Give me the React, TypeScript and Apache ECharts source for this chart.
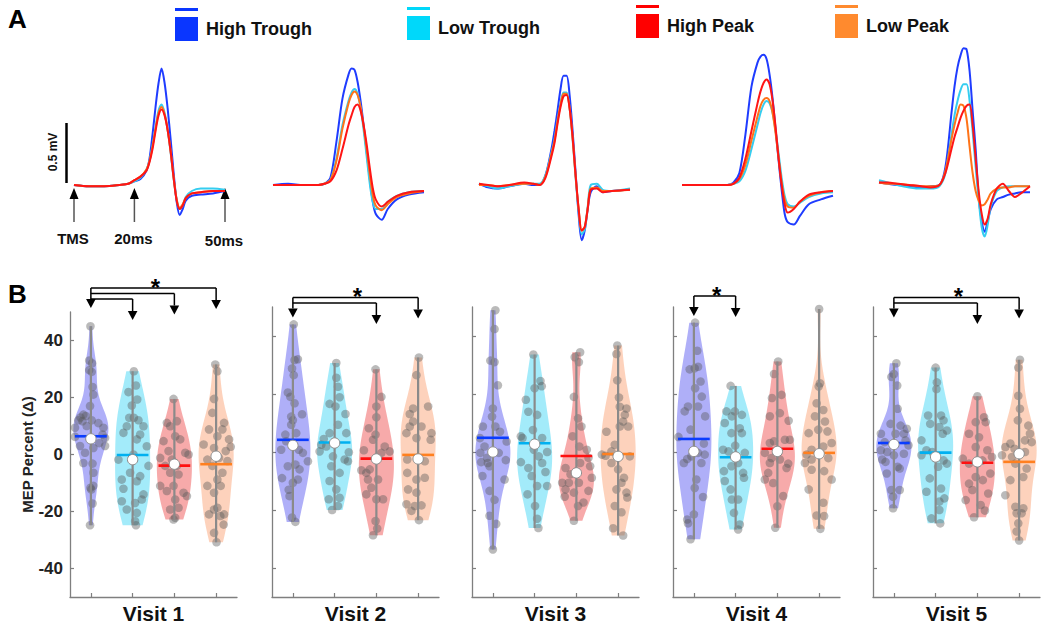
import React, { useEffect, useRef } from "react";
import * as echarts from "echarts";

const FONT = "'Liberation Sans', Arial, Helvetica, sans-serif";

const GROUPS = ["High Trough", "Low Trough", "High Peak", "Low Peak"];
const VISITS = ["Visit 1", "Visit 2", "Visit 3", "Visit 4", "Visit 5"];

// ---------------- Panel A: average MEP traces (time in ms, amplitude in mV) ----------------
const T_V1 = [0, 5, 10, 15, 18, 20, 22, 24, 25, 26, 27, 28, 29, 30, 31, 32, 33, 34, 35, 36, 37, 39, 42, 46, 50];
const A_V1_HT = [0, -0.01, -0.01, 0, 0.01, 0.03, 0.05, 0.12, 0.22, 0.42, 0.65, 0.85, 0.97, 0.85, 0.64, 0.38, 0.1, -0.14, -0.25, -0.2, -0.13, -0.09, -0.08, -0.07, -0.05];
const A_V1_LT = [0, -0.01, -0.01, 0, 0.01, 0.03, 0.06, 0.13, 0.2, 0.33, 0.48, 0.62, 0.67, 0.6, 0.46, 0.27, 0.05, -0.12, -0.2, -0.17, -0.1, -0.05, -0.03, -0.03, -0.04];
const A_V1_HP = [0, -0.01, -0.01, 0, 0.01, 0.04, 0.07, 0.12, 0.19, 0.3, 0.45, 0.58, 0.63, 0.58, 0.46, 0.28, 0.06, -0.13, -0.2, -0.17, -0.11, -0.07, -0.06, -0.05, -0.05];
const A_V1_LP = [0, -0.01, -0.01, 0, 0.01, 0.04, 0.07, 0.13, 0.2, 0.32, 0.47, 0.6, 0.65, 0.59, 0.46, 0.28, 0.06, -0.12, -0.19, -0.16, -0.11, -0.07, -0.06, -0.05, -0.05];

const T_V2 = [0, 5, 10, 15, 17, 19, 21, 23, 25, 26, 27, 28, 29, 30, 31, 32, 33, 34, 36, 38, 41, 45, 50];
const A_V2_HT = [0, 0.01, 0, 0, 0.01, 0.06, 0.36, 0.72, 0.92, 0.97, 0.96, 0.86, 0.7, 0.5, 0.28, 0.06, -0.13, -0.24, -0.29, -0.2, -0.12, -0.08, -0.06];
const A_V2_LT = [0, 0, 0, 0, 0.01, 0.04, 0.22, 0.5, 0.7, 0.77, 0.8, 0.76, 0.64, 0.46, 0.24, 0.02, -0.14, -0.2, -0.2, -0.14, -0.09, -0.06, -0.05];
const A_V2_HP = [0, 0, 0, 0, 0.01, 0.03, 0.12, 0.3, 0.5, 0.58, 0.65, 0.67, 0.62, 0.5, 0.34, 0.15, -0.02, -0.12, -0.18, -0.14, -0.09, -0.06, -0.05];
const A_V2_LP = [0, 0, 0, 0, 0.01, 0.04, 0.2, 0.47, 0.68, 0.75, 0.78, 0.75, 0.65, 0.49, 0.3, 0.1, -0.08, -0.17, -0.21, -0.16, -0.1, -0.07, -0.05];

const T_V3 = [0, 3, 6, 10, 15, 18, 20, 22, 24, 25, 26, 27, 28, 29, 30, 31, 32, 33, 34, 35, 36, 37, 39, 41, 44, 50];
const A_V3_HT = [0.01, -0.02, -0.03, -0.01, 0.01, 0, 0, 0.08, 0.3, 0.45, 0.62, 0.8, 0.91, 0.91, 0.75, 0.45, 0.1, -0.25, -0.46, -0.38, -0.2, -0.06, -0.01, -0.06, -0.05, -0.04];
const A_V3_LT = [0.01, -0.01, -0.03, -0.01, 0.01, 0.01, 0.01, 0.08, 0.27, 0.38, 0.54, 0.68, 0.77, 0.77, 0.64, 0.38, 0.06, -0.22, -0.41, -0.37, -0.18, 0.0, 0.01, -0.04, -0.05, -0.03];
const A_V3_HP = [0.01, 0, -0.01, 0, 0.02, 0.01, 0, 0.06, 0.24, 0.35, 0.51, 0.65, 0.74, 0.75, 0.64, 0.4, 0.08, -0.2, -0.38, -0.35, -0.2, -0.04, -0.03, -0.06, -0.05, -0.04];
const A_V3_LP = [0, 0, -0.01, 0, 0.01, 0.01, 0, 0.07, 0.26, 0.37, 0.53, 0.67, 0.76, 0.76, 0.64, 0.39, 0.07, -0.2, -0.38, -0.35, -0.19, -0.03, -0.02, -0.05, -0.05, -0.04];

const T_V4 = [0, 5, 10, 15, 17, 19, 21, 23, 25, 26, 27, 28, 29, 30, 31, 32, 33, 34, 35, 37, 39, 42, 46, 50];
const A_V4_HT = [0, 0, 0, 0, 0.02, 0.1, 0.42, 0.82, 1.02, 1.07, 1.085, 1.05, 0.92, 0.72, 0.46, 0.2, -0.04, -0.24, -0.31, -0.33, -0.26, -0.16, -0.12, -0.09];
const A_V4_LT = [0, 0, 0, 0, 0.01, 0.03, 0.12, 0.3, 0.5, 0.6, 0.67, 0.7, 0.68, 0.6, 0.45, 0.26, 0.06, -0.09, -0.16, -0.18, -0.15, -0.1, -0.07, -0.06];
const A_V4_HP = [0, 0, 0, 0, 0.01, 0.06, 0.22, 0.45, 0.68, 0.78, 0.85, 0.88, 0.84, 0.7, 0.48, 0.22, 0, -0.16, -0.23, -0.2, -0.14, -0.08, -0.06, -0.05];
const A_V4_LP = [0, 0, 0, 0, 0.01, 0.05, 0.17, 0.37, 0.57, 0.66, 0.71, 0.725, 0.7, 0.6, 0.43, 0.22, 0.02, -0.12, -0.18, -0.19, -0.14, -0.09, -0.06, -0.05];

const T_V5 = [0, 3, 6, 10, 14, 17, 20, 22, 24, 25, 26, 27, 28, 29, 30, 31, 32, 33, 34, 35, 36, 37, 39, 41, 43, 45, 47, 50];
const A_V5_HT = [0.02, 0.01, 0, -0.01, -0.02, -0.01, 0, 0.15, 0.6, 0.82, 0.98, 1.08, 1.14, 1.13, 0.95, 0.62, 0.3, -0.1, -0.3, -0.39, -0.3, -0.2, -0.12, -0.1, -0.08, -0.07, -0.06, -0.06];
const A_V5_LT = [0.04, 0.02, 0, -0.02, -0.03, -0.03, -0.01, 0.1, 0.42, 0.58, 0.7, 0.79, 0.84, 0.84, 0.7, 0.45, 0.15, -0.12, -0.35, -0.43, -0.33, -0.18, -0.05, -0.02, -0.01, -0.01, -0.01, -0.01];
const A_V5_HP = [0.02, 0.02, 0.01, 0, -0.01, -0.02, 0, 0.1, 0.3, 0.4, 0.48, 0.56, 0.62, 0.66, 0.67, 0.5, 0.22, -0.05, -0.24, -0.33, -0.28, -0.16, -0.03, 0.01, -0.05, -0.1, -0.07, -0.01];
const A_V5_LP = [0.02, 0.01, 0.01, 0, -0.01, -0.01, 0, 0.12, 0.38, 0.5, 0.6, 0.67, 0.66, 0.55, 0.32, 0.1, -0.05, -0.13, -0.17, -0.16, -0.12, -0.07, -0.03, -0.02, -0.02, -0.01, -0.01, -0.01];

// ---------------- Panel B: MEP percent change, points as [jitter (category units), value] ----------------
const V1_HT = [[-0.01,45],[-0.04,33],[0.03,32],[0.02,29],[-0.04,29.6],[0.04,23.7],[0.06,21],[-0.02,17],[-0.18,14],[-0.12,13.5],[-0.25,13],[-0.3,12],[-0.2,11.7],[0.02,12],[0.18,11],[-0.1,10],[-0.38,9.4],[0.3,9.4],[0.28,7],[-0.38,6.2],[0.34,5.8],[0.2,4],[0.06,2.3],[-0.26,3],[-0.14,0.6],[0.34,3],[-0.18,-3],[0.04,-3.2],[0.06,-6.4],[-0.01,-11.7],[0.06,-11],[0.01,-12.3],[0.04,-17.2],[-0.02,-24.8]];
const V1_LT = [[0.03,29.2],[-0.1,21.9],[0.08,24.2],[0.11,19.3],[-0.02,17.2],[-0.08,12.9],[0.03,12.9],[0.14,12],[-0.14,9.9],[0.26,9.9],[-0.22,7.6],[0.18,7],[0.1,5.3],[0.34,2.9],[-0.34,-1.8],[0.02,0],[0.38,-4],[-0.06,-6.4],[0.18,-7.6],[-0.26,-8.8],[0.1,-9.4],[-0.22,-12],[0.26,-14],[-0.26,-16.4],[0.06,-17],[-0.14,-19.3],[0.1,-20.5],[0.06,-23.4],[0.08,-24.8],[0.22,-15.8]];
const V1_HP = [[-0.02,19.5],[-0.18,11.1],[0.06,11.7],[-0.1,9.9],[-0.26,4.7],[0.02,6.4],[0.14,5.3],[0.26,0.6],[0.34,0],[-0.14,1.2],[-0.34,-1.2],[-0.06,-1.8],[-0.22,-4],[0.06,-4],[-0.1,-6.4],[0.1,-7],[-0.34,-11],[-0.02,-11],[-0.18,-12.8],[0.22,-13.4],[0.02,-15.8],[-0.1,-19.3],[0.02,-22.2],[-0.02,-22.8],[0.1,-18.7],[0.3,-14.6]];
const V1_LP = [[-0.02,31.6],[0.03,29.2],[-0.05,19.5],[-0.09,14.6],[0.19,11.1],[-0.17,8.8],[0.15,8.8],[0.03,6.4],[0.31,5.3],[-0.3,3.5],[0.35,2.7],[-0.05,2.3],[0.23,1.2],[0.07,-1.2],[-0.21,-1.8],[0.27,-2.3],[-0.09,-4],[0.15,-6.4],[0.03,-8.8],[-0.21,-11],[0.11,-11],[-0.05,-13.4],[-0.05,-19.3],[0.03,-18.7],[-0.17,-21],[0.19,-21],[0.1,-21.6],[0.18,-24.6],[-0.05,-27.5],[0.01,-30.8]];

const V2_HT = [[0.02,44],[0.12,32],[0.04,31.7],[-0.02,28.8],[0.02,26.5],[-0.12,20.5],[-0.06,19],[0.04,16.8],[-0.04,12.2],[0.22,13],[0,11],[-0.04,9.4],[-0.18,6],[0.08,6.5],[0.14,0.8],[-0.28,0.8],[0.36,-3.2],[0.06,-4.3],[-0.12,-4.9],[0.16,-6],[0.12,-9.5],[-0.26,-9],[0,-10.6],[-0.1,-13],[-0.08,-15.2],[0.24,-0.3],[-0.02,-22.6],[0.06,-24.1],[-0.16,3.7]];
const V2_LT = [[0.04,30.7],[0.04,25.6],[0.08,22.5],[-0.12,16.6],[0.12,18.9],[0.02,15.7],[0.08,9.4],[0.26,13.1],[-0.26,4.5],[-0.12,6.5],[0.28,6.5],[-0.36,0.2],[-0.2,1.9],[-0.32,2.5],[0.34,-0.1],[-0.04,-1.5],[0.24,-2.6],[-0.08,-4.9],[0.32,-3.2],[-0.12,-10],[0.12,-7.2],[0.04,-12.9],[-0.14,-16.3],[0.12,-15.8],[-0.06,-20],[0.08,-18.6]];
const V2_HP = [[-0.02,28.5],[0.12,19],[0,15.7],[0,12],[-0.18,8.2],[-0.02,6],[-0.08,4.2],[-0.3,0.6],[0.12,-0.3],[0.32,0.2],[0.2,1.9],[-0.36,-6.3],[-0.16,-6],[0.04,-9.5],[-0.24,-7.2],[-0.12,-12.3],[0,-16.3],[-0.24,-14.6],[0.16,-16.3],[-0.02,-23.8],[-0.08,-28.7],[0.02,-26.4],[-0.2,-9.5]];
const V2_LP = [[0.02,32.6],[-0.04,26.5],[-0.12,15],[-0.2,13.1],[0.24,15.7],[-0.12,10.5],[0.08,8.8],[0.32,6.5],[-0.28,6.5],[-0.04,4.8],[0.3,4.2],[-0.26,-2.6],[0.16,-3.2],[-0.26,-7.2],[0.16,-8.9],[-0.04,-9.5],[-0.24,-12.9],[-0.04,-14],[-0.28,-18],[-0.08,-18.6],[0.08,-18.4],[-0.16,-20.3],[0.02,-23.5],[-0.2,8.8]];

const V3_HT = [[0.06,48.9],[0.04,42.4],[-0.06,31.5],[0.04,31],[0.12,23],[0,15],[-0.02,12.2],[-0.24,8.8],[0.06,8.8],[0.17,7],[-0.31,4.8],[0.33,3.6],[-0.2,1.9],[-0.3,-0.3],[0.14,-0.3],[-0.14,-2],[-0.28,-3.5],[0.31,-2.8],[-0.08,-4.9],[-0.25,-8.3],[0.28,-9.5],[-0.08,-13.4],[0.04,-16.5],[-0.08,-22],[0.08,-24.8],[0,-33.6],[-0.12,-3.8]];
const V3_LT = [[-0.03,33.6],[0.14,24.5],[0,22],[-0.21,18],[0.17,22.7],[-0.15,13.9],[0.06,12.8],[-0.04,7.6],[-0.33,5.4],[-0.29,4.8],[0.18,4.8],[0.3,0],[-0.02,0.8],[0.1,-1.5],[-0.33,-3.5],[-0.15,-5.5],[-0.07,-8.3],[0.26,-6.9],[0.06,-11.7],[-0.17,-14.6],[0.3,-11.7],[0.01,-18.6],[0.06,-23],[0.09,-26.2],[0.18,-3.8]];
const V3_HP = [[0.09,34.4],[-0.04,32.7],[0.06,31],[-0.06,19],[0.04,11.6],[0.12,8.8],[-0.09,5.4],[0.25,0.8],[0.07,1.9],[0.29,-2],[0.09,-3.8],[-0.26,-5.5],[0.33,-4.9],[-0.14,-7.7],[-0.34,-10.6],[-0.18,-10.6],[0.06,-10.6],[0.37,-8.9],[-0.26,-12.9],[-0.06,-14],[0.29,-13.4],[0.17,-17.4],[-0.28,-15.4],[-0.06,-23.7],[0.04,-18.6]];
const V3_LP = [[-0.02,36.7],[-0.04,33.8],[-0.02,24.7],[0.02,18.8],[0.04,15.6],[0.2,15],[0.16,12.8],[0.12,10.5],[0.24,8.8],[-0.28,7],[0.04,8.8],[-0.08,2.5],[-0.16,0.2],[-0.39,-0.9],[0.28,-1.5],[-0.16,-3.8],[0.14,-8.9],[0.08,-10.6],[0.2,-14],[0.22,-15.7],[-0.04,-12.9],[-0.08,-18.6],[0.08,-20.8],[-0.12,-26.3],[0.12,-28.8],[-0.3,-1.3],[0,-6]];

const V4_HT = [[0.03,44.6],[0.08,34.9],[-0.1,28.5],[0.1,29.4],[0.02,28.9],[0.16,24.3],[0.03,22],[0.19,19.1],[-0.14,15.7],[0.1,15.7],[-0.22,14],[0.27,12.3],[-0.08,7.7],[-0.37,5.2],[0.24,2.9],[0.1,-0.3],[0.26,-0.9],[-0.06,-1.5],[-0.16,-2.4],[-0.24,-3.8],[0.18,-3.8],[0.06,-9.5],[0.02,-12.4],[0.22,-15.5],[0,-21.5],[-0.16,-23.3],[-0.14,-24.6],[-0.08,-30.1]];
const V4_LT = [[-0.12,22.8],[-0.22,14],[-0.02,14],[0.15,12.8],[-0.09,12.3],[-0.26,10],[0.1,8.2],[-0.1,6.5],[0.15,6.5],[-0.3,0.8],[-0.17,0.2],[0.22,-0.3],[-0.01,2.2],[0.06,-3.8],[-0.28,-6.6],[-0.1,-4.9],[0.18,-7.2],[-0.26,-10],[0.2,-8.9],[-0.09,-16.4],[0.06,-16.4],[-0.04,-21],[0.1,-25],[0.06,-26.7],[-0.12,-12.9]];
const V4_HP = [[0.02,31.2],[-0.08,26.9],[-0.13,18.6],[0.1,19.7],[0.06,13.4],[-0.18,12.3],[0.27,10.8],[-0.18,3.1],[-0.08,3.7],[0.18,4.2],[0.3,4.2],[-0.3,-0.3],[-0.14,-2.1],[0.06,-2.6],[0.26,-4],[-0.18,-3.8],[0.22,-5.5],[-0.3,-9.5],[-0.1,-10.7],[0.14,-15.2],[0,-18.7],[-0.05,-26.1],[-0.22,-7.2]];
const V4_LP = [[0,49.3],[0.02,23.7],[-0.01,22.6],[-0.06,16.8],[0.1,14.5],[-0.1,12.3],[0.14,10.5],[-0.25,6.5],[0.2,7.1],[-0.02,7.7],[0.3,3.1],[-0.18,0.8],[0.1,1.9],[-0.3,-0.9],[-0.34,-3.8],[-0.18,-2.6],[0.22,-2.1],[0.12,-6.6],[0.3,-9.5],[-0.25,-12.9],[0.1,-17.5],[-0.06,-21.9],[0.12,-22.1],[0.03,-26.5],[-0.18,-6.1]];

const V5_HT = [[0.06,30.6],[0,26.9],[-0.06,25.9],[0.08,22.9],[0.09,14.9],[-0.08,9.7],[0.16,9.1],[0.31,8],[0.04,6.3],[0.24,6.3],[-0.31,6.3],[-0.22,3.4],[0.28,4],[-0.31,0.6],[-0.16,0],[0.24,-0.6],[0,-1.1],[0.35,2.3],[-0.2,-3.4],[0.09,-5.1],[0.14,-5.7],[-0.17,-7.4],[-0.06,-13.1],[0.14,-13.1],[-0.02,-15.4],[-0.02,-19.4],[-0.28,-2.6]];
const V5_LT = [[0,29.1],[0.03,24],[0.02,21.7],[-0.18,12.6],[0.13,12.6],[0.19,10.9],[0.09,8.6],[-0.13,9.7],[-0.34,4],[0.27,7.4],[0.17,6.3],[-0.22,0.6],[-0.34,-1.1],[-0.08,0],[0.19,-2.9],[0.27,-4],[0.06,-5.1],[-0.14,-9.1],[0.13,-12.6],[-0.22,-13.7],[0.21,-16],[0.09,-20],[-0.1,-22.9],[0.11,-24.6],[0.09,-17.1]];
const V5_HP = [[0,19.2],[0.16,12],[-0.04,10.3],[0.2,10.3],[-0.2,6.3],[0.04,5.1],[0.24,0.6],[0.35,-1.7],[-0.35,-2.3],[-0.2,-4],[0.12,-2.9],[0.31,-7.4],[-0.04,-8.6],[-0.2,-10.9],[0.13,-9.7],[-0.12,-13.1],[0.26,-14.3],[-0.28,-16.6],[0.08,-18.3],[0.18,-20.2],[-0.08,-22.5],[-0.04,1.7]];
const V5_LP = [[0.02,31.8],[-0.02,29.1],[-0.02,19.4],[0.02,14.9],[-0.03,10.9],[0.22,9.1],[0.26,6.3],[0.3,3.4],[0.14,4],[-0.21,2.9],[-0.33,1.7],[-0.11,1.1],[0.14,0],[-0.41,-1.1],[-0.17,-1.7],[-0.09,-4],[0.18,-5.7],[-0.21,-9.7],[0.1,-8.6],[-0.33,-14.9],[-0.09,-18.9],[0.1,-19.4],[0.06,-21.1],[-0.06,-21.1],[-0.02,-24.6],[-0.06,-27.4],[0,-30.5]];

// means (coloured bars) and medians (white dots), per visit, group order HT, LT, HP, LP
const MEANS = [
  [6.4, -0.2, -3.9, -3.4],
  [4.2, 3.3, -2.3, -1.0],
  [4.9, 3.0, -1.4, -0.7],
  [4.5, -1.8, 1.1, -0.3],
  [3.1, -0.2, -3.7, -3.4],
];
const MEDIANS = [
  [5.5, -1.8, -3.4, -0.6],
  [2.3, 3.1, -2.4, -2.4],
  [0.0, 2.7, -7.2, -1.5],
  [0.2, -1.7, 0.2, -0.6],
  [2.6, -1.7, -3.4, -0.6],
];
// significant comparisons (group index pairs) per visit
const SIG = [
  [[0, 1], [0, 2], [0, 3]],
  [[0, 2], [0, 3]],
  [],
  [[0, 1]],
  [[0, 2], [0, 3]],
];
const Y_TICKS = [-40, -20, 0, 20, 40];

// tables built from the arrays
const TRACE_T = [T_V1, T_V2, T_V3, T_V4, T_V5];
const TRACES = [
  [A_V1_HT, A_V1_LT, A_V1_HP, A_V1_LP],
  [A_V2_HT, A_V2_LT, A_V2_HP, A_V2_LP],
  [A_V3_HT, A_V3_LT, A_V3_HP, A_V3_LP],
  [A_V4_HT, A_V4_LT, A_V4_HP, A_V4_LP],
  [A_V5_HT, A_V5_LT, A_V5_HP, A_V5_LP],
];
const POINTS = [
  [V1_HT, V1_LT, V1_HP, V1_LP],
  [V2_HT, V2_LT, V2_HP, V2_LP],
  [V3_HT, V3_LT, V3_HP, V3_LP],
  [V4_HT, V4_LT, V4_HP, V4_LP],
  [V5_HT, V5_LT, V5_HP, V5_LP],
];

// ---------------- styles / layout ----------------
const LEGEND_COLORS = ["#0a36ff", "#00d8fa", "#ff0000", "#ff8a2e"];
const TRACE_COLORS = ["#1f3cff", "#35cdf0", "#ff1515", "#ff7318"];
const VIOLIN_FILL = ["rgba(20,20,235,0.34)", "rgba(0,200,240,0.36)", "rgba(232,20,20,0.36)", "rgba(250,130,70,0.36)"];
const MEAN_COLORS = ["#0a3cff", "#00b0f0", "#ff1010", "#ff8020"];
const POINT_FILL = "rgba(90,90,90,0.42)";
const AXIS = "#7f7f7f";

const A_LEFT = [74, 273, 479, 682, 879];
const A_TOP = 41;
const A_W = 151;
const A_H = 204;
const B_LEFT = [70, 272, 472, 673, 873];
const B_TOP = [312, 307, 307, 307, 307];
const B_BOTTOM = 597;
const B_W = 167;
const BR_BASE = [299, 303, 300, 296, 303];
const LEG_LEFT = [175, 407, 636, 835];
const LEG_TOP = [8, 7, 5, 5];
// short bar above a square; an invisible sliver at the bottom keeps the label centred on the square
const LEG_ICON = "path://M0,0H23V3H0Z M0,9H23V33H0Z M0,41.99H23V42H0Z";

function median(a: number[]) {
  const s = [...a].sort((x, y) => x - y);
  const n = s.length;
  return n % 2 ? s[(n - 1) / 2] : (s[n / 2 - 1] + s[n / 2]) / 2;
}

// kernel density outline, truncated at the data range, width normalised to 1
function kdeShape(vals: number[]) {
  const n = vals.length;
  const med = median(vals);
  const mad = median(vals.map((v) => Math.abs(v - med)));
  const bw = (mad / 0.6745) * Math.pow(4 / (3 * n), 0.2);
  const lo = Math.min(...vals);
  const hi = Math.max(...vals);
  const steps = 70;
  const out: number[][] = [];
  let mx = 0;
  for (let i = 0; i <= steps; i++) {
    const y = lo + ((hi - lo) * i) / steps;
    let d = 0;
    for (const v of vals) d += Math.exp(-0.5 * ((y - v) / bw) ** 2);
    out.push([y, d]);
    if (d > mx) mx = d;
  }
  return out.map(([y, d]) => [y, d / mx]);
}

function violinSeries(v: number, g: number) {
  const pts = POINTS[v][g];
  const vals = pts.map((p) => p[1]);
  const shape = kdeShape(vals);
  const lo = Math.min(...vals);
  const hi = Math.max(...vals);
  return {
    type: "custom",
    name: GROUPS[g],
    xAxisIndex: 5 + v,
    yAxisIndex: 5 + v,
    color: LEGEND_COLORS[g],
    silent: true,
    data: [[g, MEANS[v][g], MEDIANS[v][g]]],
    encode: { x: 0, y: 1 },
    renderItem: (_params: any, api: any) => {
      const cat = api.value(0);
      const mean = api.value(1);
      const med = api.value(2);
      const band = api.size([1, 0])[0];
      const cx = api.coord([cat, 0])[0];
      const Y = (val: number) => api.coord([cat, val])[1];
      const half = 0.42 * band;
      const right = shape.map(([val, w]) => [cx + w * half, Y(val)]);
      const left = shape.slice().reverse().map(([val, w]) => [cx - w * half, Y(val)]);
      const children: any[] = [
        { type: "polygon", shape: { points: right.concat(left) }, style: { fill: VIOLIN_FILL[g], stroke: "none" } },
      ];
      for (const [j, val] of pts) {
        children.push({ type: "circle", shape: { cx: cx + j * band, cy: Y(val), r: 4.3 }, style: { fill: POINT_FILL } });
      }
      children.push({ type: "line", shape: { x1: cx, y1: Y(lo), x2: cx, y2: Y(hi) }, style: { stroke: "#8a8a8a", lineWidth: 2.2 } });
      children.push({
        type: "line",
        shape: { x1: cx - 0.38 * band, y1: Y(mean), x2: cx + 0.38 * band, y2: Y(mean) },
        style: { stroke: MEAN_COLORS[g], lineWidth: 2.6 },
      });
      children.push({ type: "circle", shape: { cx, cy: Y(med), r: 5.2 }, style: { fill: "#ffffff", stroke: "#8c8c8c", lineWidth: 1 } });
      return { type: "group", children };
    },
  };
}

function arrowDown(x: number, yFrom: number, tip: number, children: any[]) {
  const headH = 9;
  children.push({ type: "line", shape: { x1: x, y1: yFrom, x2: x, y2: tip - headH }, style: { stroke: "#000", lineWidth: 1.5 } });
  children.push({ type: "polygon", shape: { points: [[x - 4.8, tip - headH], [x + 4.8, tip - headH], [x, tip]] }, style: { fill: "#000" } });
}

function bracketSeries(v: number) {
  const pairs = [...SIG[v]].sort((a, b) => b[1] - a[1]);
  return {
    type: "custom",
    name: "significance",
    xAxisIndex: 5 + v,
    yAxisIndex: 5 + v,
    silent: true,
    z: 5,
    data: [[0, 0]],
    renderItem: (_params: any, api: any) => {
      const X = (k: number) => api.coord([k, 0])[0];
      const n = pairs.length;
      const lineY = (k: number) => BR_BASE[v] - (n - 1 - k) * 5.5;
      const children: any[] = [];
      const x0 = X(pairs[0][0]);
      const yTop = lineY(0);
      arrowDown(x0, yTop, yTop + 20, children);
      pairs.forEach(([a, b], k) => {
        const y = lineY(k);
        const xb = X(b);
        children.push({ type: "line", shape: { x1: X(a), y1: y, x2: xb, y2: y }, style: { stroke: "#000", lineWidth: 1.5 } });
        arrowDown(xb, y, y + 21, children);
      });
      children.push({
        type: "text",
        x: (x0 + X(pairs[0][1])) / 2 + 2,
        y: yTop - 1,
        style: { text: "*", fontSize: 24, fontWeight: "bold", fontFamily: FONT, fill: "#000", align: "center", verticalAlign: "middle" },
      });
      return { type: "group", children };
    },
  };
}

function buildOption() {
  const grid: any[] = [];
  const xAxis: any[] = [];
  const yAxis: any[] = [];
  const series: any[] = [];

  // Panel A
  for (let v = 0; v < 5; v++) {
    grid.push({ left: A_LEFT[v], top: A_TOP, width: A_W, height: A_H, outerBoundsMode: "none" });
    xAxis.push({ type: "value", gridIndex: v, min: 0, max: 50, show: false });
    yAxis.push({ type: "value", gridIndex: v, min: -0.5, max: 1.2, show: false });
    for (const g of [0, 1, 3, 2]) {
      series.push({
        type: "line",
        name: GROUPS[g],
        xAxisIndex: v,
        yAxisIndex: v,
        data: TRACE_T[v].map((t, i) => [t, TRACES[v][g][i]]),
        showSymbol: false,
        symbol: "none",
        smooth: 0.3,
        color: TRACE_COLORS[g],
        lineStyle: { color: TRACE_COLORS[g], width: 2 },
        silent: true,
      });
    }
  }

  // Panel B
  for (let v = 0; v < 5; v++) {
    const gi = 5 + v;
    grid.push({ left: B_LEFT[v], top: B_TOP[v], width: B_W, height: B_BOTTOM - B_TOP[v], outerBoundsMode: "none" });
    xAxis.push({
      type: "category",
      gridIndex: gi,
      data: GROUPS,
      boundaryGap: true,
      axisLine: { show: true, onZero: false, lineStyle: { color: AXIS, width: 1.3 } },
      axisTick: { show: true, alignWithLabel: true, inside: true, length: 4, interval: 0, lineStyle: { color: AXIS, width: 1.2 } },
      axisLabel: { show: false },
      splitLine: { show: false },
      name: VISITS[v],
      nameLocation: "middle",
      nameGap: 6,
      nameTextStyle: { fontSize: 21, fontWeight: "bold", color: "#111", fontFamily: FONT, verticalAlign: "top" },
    });
    yAxis.push({
      type: "value",
      gridIndex: gi,
      min: -50,
      max: 50,
      splitLine: { show: false },
      axisLine: { show: true, onZero: false, lineStyle: { color: AXIS, width: 1.3 } },
      axisTick: { show: true, inside: true, length: 4, customValues: Y_TICKS, lineStyle: { color: AXIS, width: 1.2 } },
      axisLabel:
        v === 0
          ? { show: true, customValues: Y_TICKS, fontSize: 17, fontWeight: "bold", color: "#222", fontFamily: FONT, margin: 7 }
          : { show: false },
      name: v === 0 ? "MEP Percent (\u0394)" : "",
      nameLocation: "middle",
      nameGap: 35,
      nameTextStyle: { fontSize: 15, fontWeight: "bold", color: "#222", fontFamily: FONT },
    });
    for (let g = 0; g < 4; g++) series.push(violinSeries(v, g));
    if (SIG[v].length) series.push(bracketSeries(v));
  }

  const legend = GROUPS.map((name, i) => ({
    data: [{ name, itemStyle: { color: LEGEND_COLORS[i], borderWidth: 0 } }],
    left: LEG_LEFT[i],
    top: LEG_TOP[i],
    orient: "horizontal",
    icon: LEG_ICON,
    itemWidth: 23,
    itemHeight: 42,
    selectedMode: false,
    padding: 0,
    itemStyle: { borderWidth: 0 },
    textStyle: { fontSize: 18, fontWeight: "bold", color: "#111", fontFamily: FONT, padding: [0, 0, 0, 3] },
  }));

  // panel A annotations: scale bar, stimulus/time arrows, panel letters
  const tx = (t: number) => A_LEFT[0] + (t * A_W) / 50;
  const graphic: any[] = [
    { type: "text", x: 17.5, y: 19, style: { text: "A", fontSize: 26, fontWeight: "bold", fontFamily: FONT, fill: "#000", align: "center", verticalAlign: "middle" } },
    { type: "text", x: 17.5, y: 294, style: { text: "B", fontSize: 26, fontWeight: "bold", fontFamily: FONT, fill: "#000", align: "center", verticalAlign: "middle" } },
    { type: "line", shape: { x1: 66.5, y1: 123, x2: 66.5, y2: 183 }, style: { stroke: "#000", lineWidth: 2.5 } },
    { type: "text", x: 53, y: 152, rotation: Math.PI / 2, style: { text: "0.5 mV", fontSize: 12, fontWeight: "bold", fontFamily: FONT, fill: "#111", align: "center", verticalAlign: "middle" } },
  ];
  const marks = [
    { t: 0, label: "TMS", ly: 238 },
    { t: 20, label: "20ms", ly: 238 },
    { t: 50, label: "50ms", ly: 240 },
  ];
  for (const m of marks) {
    const x = tx(m.t);
    graphic.push({ type: "line", shape: { x1: x, y1: 198, x2: x, y2: 222 }, style: { stroke: "#555", lineWidth: 1.5 } });
    graphic.push({ type: "polygon", shape: { points: [[x - 4.5, 199], [x + 4.5, 199], [x, 188]] }, style: { fill: "#000" } });
    graphic.push({ type: "text", x: x - 1, y: m.ly, style: { text: m.label, fontSize: 15, fontWeight: "bold", fontFamily: FONT, fill: "#111", align: "center", verticalAlign: "middle" } });
  }

  return {
    animation: false,
    backgroundColor: "#ffffff",
    textStyle: { fontFamily: FONT },
    legend,
    grid,
    xAxis,
    yAxis,
    series,
    graphic,
  };
}

export default function App() {
  const ref = useRef<HTMLDivElement>(null);
  useEffect(() => {
    if (!ref.current) return;
    const chart = echarts.init(ref.current, null, { renderer: "svg" });
    chart.setOption(buildOption() as any);
    return () => chart.dispose();
  }, []);
  return (
    <div
      ref={ref}
      style={{ position: "fixed", left: 0, top: 0, width: 1050, height: 630, background: "#ffffff" }}
    />
  );
}
